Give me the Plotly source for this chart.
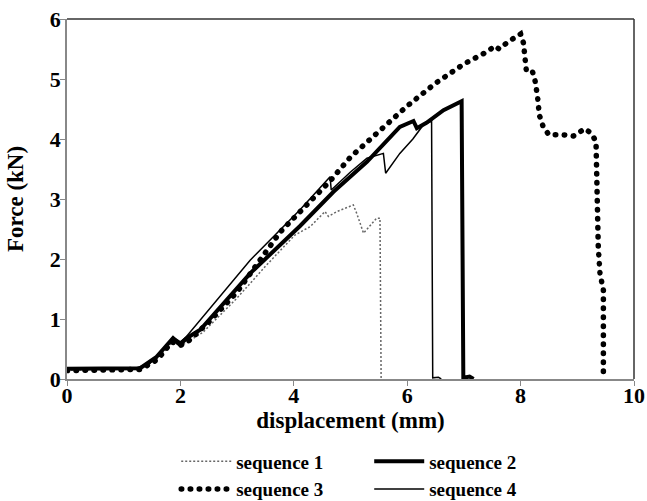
import plotly.graph_objects as go

# sequence 1 (fine grey dotted)
s1_x = [0, 0.5, 1.0, 1.3, 1.6, 1.87, 2.0, 2.15, 2.4, 3.0, 3.5, 4.02, 4.29, 4.55, 4.61, 4.76, 5.05, 5.11, 5.23, 5.46, 5.52, 5.54]
s1_y = [0.15, 0.16, 0.16, 0.17, 0.35, 0.62, 0.55, 0.63, 0.78, 1.35, 1.88, 2.4, 2.54, 2.79, 2.71, 2.79, 2.9, 2.76, 2.43, 2.68, 2.68, 0.0]

# sequence 2 (thick solid)
s2_x = [0, 0.5, 1.0, 1.29, 1.58, 1.87, 1.99, 2.11, 2.35, 3.23, 4.11, 4.7, 5.29, 5.87, 6.11, 6.17, 6.34, 6.64, 6.96, 6.99, 7.1, 7.17]
s2_y = [0.17, 0.17, 0.18, 0.18, 0.37, 0.68, 0.57, 0.68, 0.82, 1.76, 2.55, 3.12, 3.62, 4.2, 4.3, 4.18, 4.27, 4.48, 4.63, 0.02, 0.04, 0.0]

# sequence 3 (round dots)
s3_x = [0, 0.6, 1.3, 1.6, 1.85, 2.0, 2.15, 2.5, 3.0, 3.76, 4.64, 5.0, 5.5, 6.0, 6.5, 7.0, 7.4, 7.55, 7.62, 7.7, 7.78, 7.88, 8.0,
        8.05, 8.08, 8.1, 8.2, 8.25, 8.3, 8.33, 8.4, 8.5, 8.75, 8.93, 9.13, 9.24, 9.33, 9.34, 9.37, 9.4, 9.46, 9.46]
s3_y = [0.14, 0.15, 0.16, 0.33, 0.62, 0.56, 0.64, 0.95, 1.45, 2.45, 3.3, 3.7, 4.12, 4.55, 4.93, 5.25, 5.45, 5.55, 5.5, 5.57, 5.62, 5.68, 5.75,
        5.6, 5.3, 5.15, 5.15, 5.0, 4.7, 4.4, 4.2, 4.07, 4.07, 4.05, 4.17, 4.1, 3.96, 3.04, 2.2, 1.76, 1.48, 0.05]

# sequence 4 (thin solid)
s4_x = [0, 0.6, 1.2, 1.45, 1.7, 1.87, 2.0, 2.1, 2.64, 3.23, 4.11, 4.64, 4.66, 5.0, 5.29, 5.58, 5.62, 5.87, 6.1, 6.28, 6.43, 6.45, 6.55, 6.6]
s4_y = [0.17, 0.17, 0.18, 0.25, 0.5, 0.7, 0.62, 0.7, 1.32, 1.98, 2.82, 3.37, 3.15, 3.45, 3.68, 3.76, 3.43, 3.76, 4.0, 4.23, 4.3, 0.02, 0.03, 0.0]

x_ticks = [0, 2, 4, 6, 8, 10]
y_ticks = [0, 1, 2, 3, 4, 5, 6]

FONT = "Liberation Serif"
DOT_DASH = "0.5px,8.5px"

fig = go.Figure()
fig.add_trace(go.Scatter(x=s1_x, y=s1_y, mode="lines", name="sequence 1",
                         line=dict(color="#666666", width=1.5, dash="2px,2px")))
fig.add_trace(go.Scatter(x=s2_x, y=s2_y, mode="lines", name="sequence 2",
                         line=dict(color="black", width=4)))
fig.add_trace(go.Scatter(x=s3_x, y=s3_y, mode="lines", name="sequence 3",
                         line=dict(color="black", width=5.5, dash=DOT_DASH)))
fig.add_trace(go.Scatter(x=s4_x, y=s4_y, mode="lines", name="sequence 4",
                         line=dict(color="black", width=1.5)))

fig.update_layout(
    width=647, height=501,
    margin=dict(l=67, r=13, t=19, b=122, autoexpand=False),
    paper_bgcolor="white", plot_bgcolor="white",
    font=dict(family=FONT, color="black", size=20, weight="bold"),
    showlegend=True,
    legend=dict(orientation="h", x=0.533, xanchor="center",
                yref="container", y=0.117, yanchor="top",
                entrywidth=128, entrywidthmode="pixels",
                font=dict(family=FONT, size=19, weight="bold"),
                tracegroupgap=0, itemwidth=50),
    shapes=[
        dict(type="line", xref="paper", yref="paper", x0=0, x1=1, y0=1, y1=1,
             line=dict(color="#333333", width=1.5)),
        dict(type="line", xref="paper", yref="paper", x0=1, x1=1, y0=0, y1=1,
             line=dict(color="#333333", width=1.5)),
    ],
)
fig.update_xaxes(range=[0, 10], tickvals=x_ticks, ticks="outside", ticklen=5,
                 tickcolor="#888888", showline=True, linecolor="#888888", linewidth=1.5,
                 showgrid=False, zeroline=False, ticklabelstandoff=-9, automargin=False,
                 tickfont=dict(family=FONT, size=22, weight="bold"),
                 title=dict(text="displacement (mm)", standoff=4,
                            font=dict(family=FONT, size=23, weight="bold")))
fig.update_yaxes(range=[0, 6], tickvals=y_ticks, ticks="outside", ticklen=5,
                 tickcolor="#888888", showline=True, linecolor="#888888", linewidth=1.5,
                 showgrid=False, zeroline=False, ticklabelstandoff=-5, automargin=False,
                 tickfont=dict(family=FONT, size=22, weight="bold"),
                 title=dict(text="Force (kN)", standoff=20,
                            font=dict(family=FONT, size=23, weight="bold")))

# remove the default page margin and give the dotted series round dots
post = """
document.body.style.margin = '0';
document.body.style.overflow = 'hidden';
document.querySelectorAll('path.js-line').forEach(function (p) {
  var d = p.style.strokeDasharray || '';
  if (d.indexOf('0.5px') === 0) { p.style.strokeLinecap = 'round'; }
});
"""
fig.write_html("out.html", post_script=post, config={"displayModeBar": False})
